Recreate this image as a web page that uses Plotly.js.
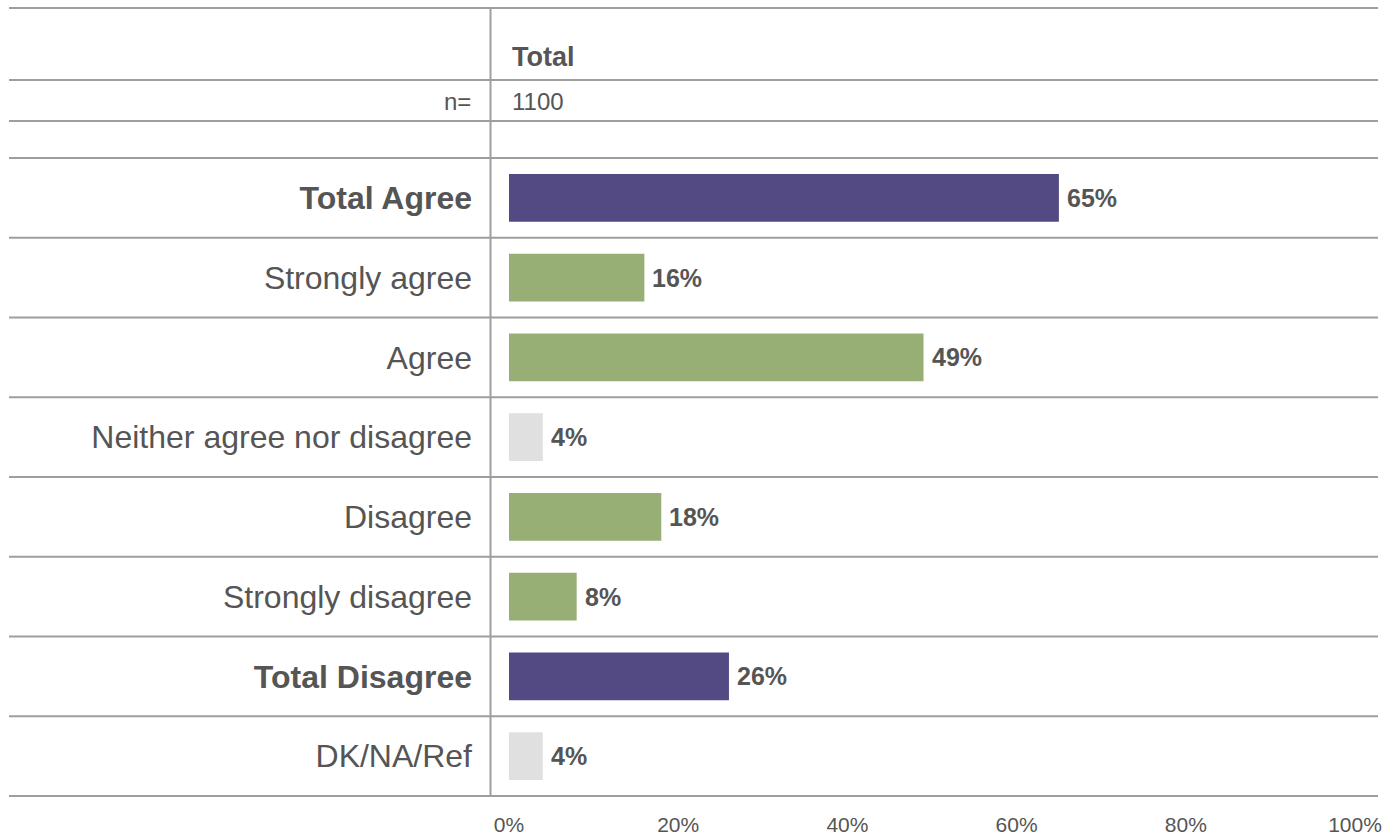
<!DOCTYPE html>
<html>
<head>
<meta charset="utf-8">
<script src="https://cdn.plot.ly/plotly-3.0.1.min.js"></script>
<style>html,body{margin:0;padding:0;background:#fff;}</style>
</head>
<body>
<div id="chart" style="width:1384px;height:836px;"></div>
<script>
// ---- data ----
const categories = ["Total Agree", "Strongly agree", "Agree", "Neither agree nor disagree", "Disagree", "Strongly disagree", "Total Disagree", "DK/NA/Ref"];
const values = [65, 16, 49, 4, 18, 8, 26, 4];
const boldRows = ["Total Agree", "Total Disagree"];
const columnHeader = "Total";
const sampleLabel = "n=";
const sampleSize = "1100";
const tickValues = [0, 20, 40, 60, 80, 100];

// ---- styles ----
const PURPLE = "#534A83", GREEN = "#97AF75", GREY = "#E0E0E0";
const TEXT = "#555555", LINE = "#9E9E9E";
const FONT = "Liberation Sans, Arial, sans-serif";
const colorFor = c => boldRows.includes(c) ? PURPLE : (c === "Neither agree nor disagree" || c === "DK/NA/Ref") ? GREY : GREEN;

const W = 1384, H = 836;
const mL = 509, mR = 29, mT = 158, mB = 40;
const pw = W - mL - mR, ph = H - mT - mB;
const px2x = p => (p - mL) / pw;
const py2y = p => (H - mB - p) / ph;

const shapes = [];
const xL = px2x(9), xR = px2x(1378);
// header lines
[8, 80, 121].forEach(p => shapes.push({type: "line", xref: "paper", yref: "paper", x0: xL, x1: xR, y0: py2y(p), y1: py2y(p), line: {color: LINE, width: 2}}));
// row boundaries
for (let i = 0; i <= categories.length; i++) {
  const y = 1 - i / categories.length;
  shapes.push({type: "line", xref: "paper", yref: "paper", x0: xL, x1: xR, y0: y, y1: y, line: {color: LINE, width: 2}});
}
// vertical separator
shapes.push({type: "line", xref: "paper", yref: "paper", x0: px2x(490.5), x1: px2x(490.5), y0: 0, y1: py2y(8), line: {color: LINE, width: 2}});

const annotations = values.map((v, i) => ({
  x: v, y: categories[i], xref: "x", yref: "y", text: "<b>" + v + "%</b>",
  showarrow: false, xanchor: "left", yanchor: "middle", xshift: 6, font: {family: FONT, size: 25, color: TEXT}
}));
annotations.push({x: px2x(510), y: py2y(57), xref: "paper", yref: "paper", text: "<b>" + columnHeader + "</b>", showarrow: false, xanchor: "left", yanchor: "middle", font: {family: FONT, size: 27, color: TEXT}});
annotations.push({x: px2x(473), y: py2y(101), xref: "paper", yref: "paper", text: sampleLabel, showarrow: false, xanchor: "right", yanchor: "middle", font: {family: FONT, size: 24, color: TEXT}});
annotations.push({x: px2x(510), y: py2y(101), xref: "paper", yref: "paper", text: sampleSize, showarrow: false, xanchor: "left", yanchor: "middle", font: {family: FONT, size: 24, color: TEXT}});

const trace = {
  type: "bar", orientation: "h",
  x: values, y: categories,
  marker: {color: categories.map(colorFor)},
  hoverinfo: "none"
};

const layout = {
  width: W, height: H,
  margin: {l: mL, r: mR, t: mT, b: mB, pad: 0},
  paper_bgcolor: "#fff", plot_bgcolor: "#fff",
  showlegend: false,
  bargap: 0.4,
  font: {family: FONT, color: TEXT},
  xaxis: {
    range: [0, 100], tickvals: tickValues, ticktext: tickValues.map(t => t + "%"),
    showgrid: false, zeroline: false, showline: false, ticks: "",
    tickfont: {size: 21, color: TEXT}, ticklabelstandoff: 14, fixedrange: true
  },
  yaxis: {
    type: "category", autorange: "reversed",
    tickvals: categories, ticktext: categories.map(c => boldRows.includes(c) ? "<b>" + c + "</b>" : c),
    showgrid: false, zeroline: false, showline: false, ticks: "",
    tickfont: {size: 32, color: TEXT}, ticklabelstandoff: 36, fixedrange: true
  },
  shapes: shapes,
  annotations: annotations
};

Plotly.newPlot("chart", [trace], layout, {displayModeBar: false, staticPlot: true});
</script>
</body>
</html>
